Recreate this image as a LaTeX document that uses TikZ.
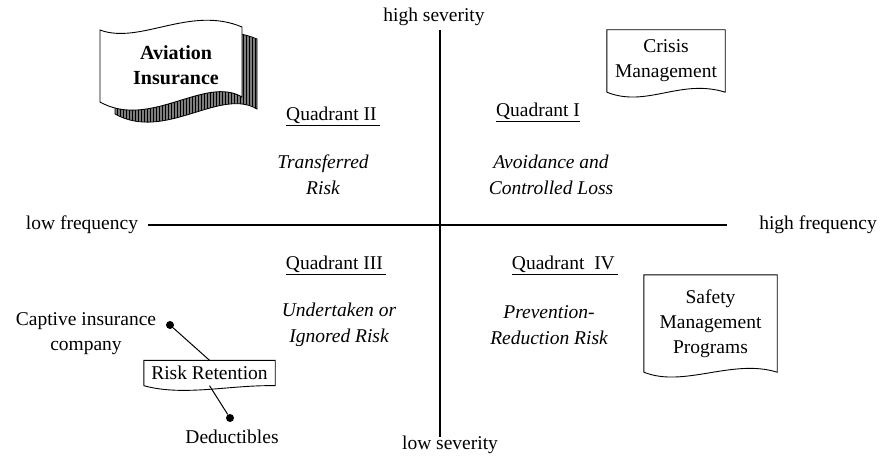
\documentclass[tikz,border=0pt]{standalone}
\usepackage{fontspec}
\setmainfont{Liberation Serif}
\usetikzlibrary{patterns}
\definecolor{flagshade}{RGB}{125, 125, 125}

\tikzset{
  lbl/.style={font=\fontsize{19.5}{25}\selectfont, inner sep=0pt},
  quad/.style={lbl},
  riskname/.style={lbl, font=\fontsize{19.5}{26}\selectfont\itshape, align=center},
  docbox/.style={lbl, align=center},
  dot/.style={circle, fill=black, inner sep=0pt, minimum size=8pt},
  axis/.style={line width=2.6pt}
}

% wavy-bottom box around a node, #2 = rise, #3 = dip
\newcommand{\docoutline}[3]{%
  \draw[line width=0.9pt] (#1.south west) -- (#1.north west) -- (#1.north east) -- (#1.south east)
    .. controls +(-45,-#2) and +(40,#3) .. (#1.south west);}

\newcommand{\flagpath}{(100,30) .. controls (140,45) and (190,5) .. (242,27) -- (242,97)
  .. controls (205,75) and (150,130) .. (100,102) -- cycle}

\begin{document}
\begin{tikzpicture}[x=1pt, y=-1pt]
\useasboundingbox (0,0) rectangle (890,457);

% axes
\coordinate (ytop) at (440,30);
\coordinate (ybot) at (440,437);
\coordinate (xleft) at (148,225);
\coordinate (xright) at (727,225);
\draw[axis] (ytop) -- (ybot);
\draw[axis] (xleft) -- (xright);

\node[lbl] (hisev) at (434,17) {high severity};
\node[lbl] (losev) at (450,445) {low severity};
\node[lbl] (lofreq) at (82,225) {low frequency};
\node[lbl] (hifreq) at (818,225) {high frequency};

% quadrants
\node[quad] (q2) at (333,116) {\underline{Quadrant II\,}};
\node[quad] (q1) at (538,112) {\underline{Quadrant I}};
\node[quad] (q3) at (336,265) {\underline{Quadrant III\,}};
\node[quad] (q4) at (565,265) {\underline{Quadrant\ \ IV\,}};

\node[riskname] (transferred) at (323,175) {Transferred\\Risk};
\node[riskname] (avoidance) at (551,175) {Avoidance and\\Controlled Loss};
\node[riskname] (undertaken) at (339,325) {Undertaken or\\Ignored Risk};
\node[riskname] (prevention) at (549,325) {Prevention-\\Reduction Risk};

% flag with shadow
\draw[line width=0.8pt, fill=flagshade, postaction={pattern=vertical lines, pattern color=black}]
  [shift={(15,12)}] \flagpath;
\draw[line width=0.9pt, fill=white] \flagpath;
\node[lbl, font=\fontsize{20}{25}\selectfont\bfseries, align=center] (aviation) at (176,65) {Aviation\\Insurance};

% document boxes
\node[docbox, minimum width=118pt, minimum height=62pt] (crisis) at (666,61) {Crisis\\Management};
\docoutline{crisis}{14}{16}
\node[docbox, minimum width=133pt, minimum height=97pt] (safety) at (710.5,323.5) {Safety\\Management\\Programs};
\docoutline{safety}{14}{16}
\node[docbox, minimum width=131pt, minimum height=25pt] (retention) at (209.5,373) {Risk Retention};
\docoutline{retention}{1}{11}

% retention options
\node[lbl, align=center] (captive) at (86,334) {Captive insurance\\company};
\node[lbl] (deductibles) at (232,437) {Deductibles};
\node[dot] (captivedot) at (170,325) {};
\node[dot] (deductdot) at (230,418) {};
\draw[line width=1pt] (captivedot) -- (retention.north);
\draw[line width=1pt] (retention.south) -- (deductdot);

\end{tikzpicture}
\end{document}
